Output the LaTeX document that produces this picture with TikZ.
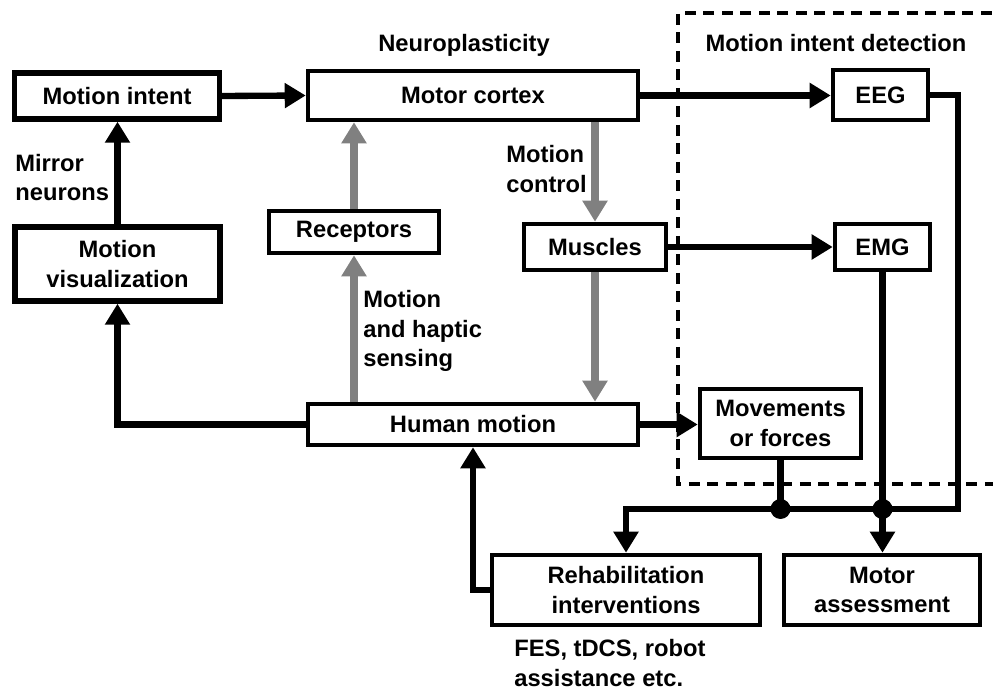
\documentclass[tikz,border=0pt]{standalone}
\usepackage{fontspec}
\setmainfont{Liberation Sans}
\usetikzlibrary{arrows.meta}

\begin{document}
\begin{tikzpicture}[scale=1,
    font=\fontsize{13.5}{17}\selectfont\bfseries,
    box/.style={draw, line width=2.6pt, inner sep=0pt, align=center},
    heavybox/.style={box, line width=3.1pt},
    blk/.style={line width=3.6pt, -{Triangle[length=0.42cm,width=0.48cm]}},
    gry/.style={line width=4.2pt, color=black!50, -{Triangle[length=0.42cm,width=0.48cm]}},
    lbl/.style={anchor=west, align=left, inner sep=0pt}]
    \useasboundingbox (0,0) rectangle (19.86,13.8);
    % detection frame
    \draw[line width=2pt, dash pattern=on 0.22cm off 0.15cm] (20.2,13.54) -- (13.56,13.54) -- (13.56,4.12) -- (20.2,4.12);
    \node at (9.28,12.9) {Neuroplasticity};
    \node at (16.72,12.94) {Motion intent detection};
    % blocks
    \node[heavybox, minimum width=4.1cm, minimum height=0.92cm] (intent) at (2.34,11.88) {Motion intent};
    \node[heavybox, minimum width=4.1cm, minimum height=1.48cm] (visual) at (2.35,8.52) {Motion\\visualization};
    \node[box, minimum width=6.6cm, minimum height=0.98cm] (cortex) at (9.46,11.89) {Motor cortex};
    \node[box, minimum width=3.4cm, minimum height=0.84cm] (recep) at (7.08,9.16) {Receptors};
    \node[box, minimum width=2.84cm, minimum height=0.92cm] (muscles) at (11.9,8.86) {Muscles};
    \node[box, minimum width=6.6cm, minimum height=0.82cm] (human) at (9.46,5.31) {Human motion};
    \node[box, minimum width=1.9cm, minimum height=1.0cm] (eeg) at (17.61,11.9) {EEG};
    \node[box, minimum width=1.9cm, minimum height=0.92cm] (emg) at (17.65,8.86) {EMG};
    \node[box, minimum width=3.22cm, minimum height=1.38cm] (move) at (15.61,5.33) {Movements\\or forces};
    \node[box, minimum width=5.36cm, minimum height=1.4cm] (rehab) at (12.52,2.0) {Rehabilitation\\interventions};
    \node[box, minimum width=3.92cm, minimum height=1.4cm] (assess) at (17.64,2.0) {Motor\\assessment};
    % labels
    \node[lbl] (mirror) at (0.3,10.25) {Mirror\\neurons};
    \node[lbl] (ctrl) at (10.12,10.42) {Motion\\control};
    \node[lbl] (sense) at (7.26,7.18) {Motion\\and haptic\\sensing};
    \node[lbl] (tools) at (10.28,0.54) {FES, tDCS, robot\\assistance etc.};
    % connectors
    \draw[blk] (intent.east) -- (cortex.west);
    \draw[blk] (visual.north) -- (visual.north |- intent.south);
    \draw[blk] (human.west) -| (visual.south);
    \draw[gry] (recep.north) -- (recep.north |- cortex.south);
    \draw[gry] (human.north -| recep) -- (recep.south);
    \draw[gry] (cortex.south -| muscles) -- (muscles.north);
    \draw[gry] (muscles.south) -- (muscles.south |- human.north);
    \draw[blk] (cortex.east) -- (cortex.east -| eeg.west);
    \draw[blk] (muscles.east) -- (muscles.east -| emg.west);
    \draw[blk] (human.east) -- (human.east -| move.west);
    \coordinate (busR) at (19.16,3.62);
    \draw[blk] (eeg.east) -| (busR) -| (rehab.north);
    \draw[line width=3.6pt] (move.south) -- (move.south |- busR);
    \draw[blk] (emg.south) -- (emg.south |- assess.north);
    \draw[blk] (rehab.west) -| (human.south);
    \fill (move.south |- busR) circle (0.2);
    \fill (emg.south |- busR) circle (0.2);
\end{tikzpicture}
\end{document}
